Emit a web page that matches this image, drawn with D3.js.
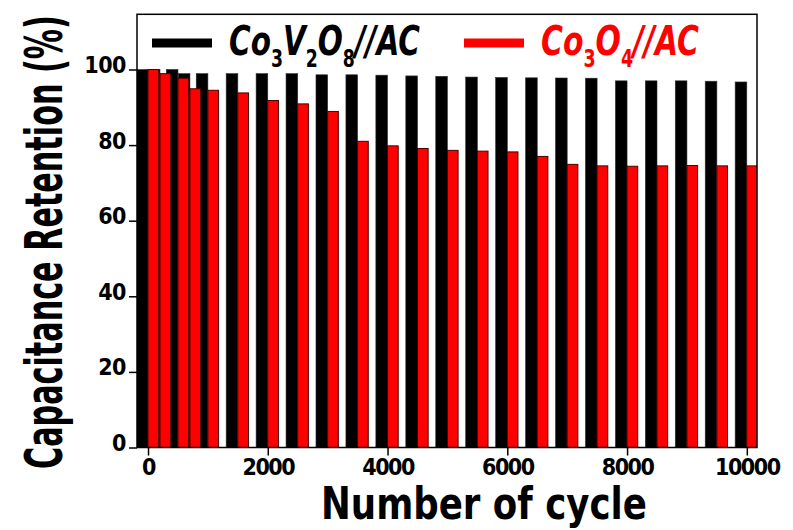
<!DOCTYPE html>
<html>
<head>
<meta charset="utf-8">
<script src="https://cdn.jsdelivr.net/npm/d3@7"></script>
<style>
  html, body { margin: 0; padding: 0; background: #fff; }
  svg { display: block; }
</style>
</head>
<body>
<svg id="chart" width="793" height="530"></svg>
<script>
// ---- data ----
const cycles = [0, 200, 500, 700, 1000, 1500, 2000, 2500, 3000, 3500, 4000, 4500,
  5000, 5500, 6000, 6500, 7000, 7500, 8000, 8500, 9000, 9500, 10000];
const co3v2o8 = [100, 100, 100, 98.9, 98.9, 98.9, 98.9, 98.9, 98.6, 98.6, 98.5, 98.3,
  98.2, 98.0, 97.9, 97.8, 97.75, 97.7, 97.0, 97.0, 97.0, 96.9, 96.7];
const co3o4 = [100, 98.9, 97.7, 94.9, 94.5, 93.8, 91.8, 90.9, 88.9, 81.0, 79.8, 79.1,
  78.6, 78.4, 78.2, 77.0, 74.9, 74.5, 74.4, 74.5, 74.6, 74.5, 74.5];
const xTicks = [0, 2000, 4000, 6000, 8000, 10000];
const yTicks = [0, 20, 40, 60, 80, 100];

// ---- layout ----
const svg = d3.select("#chart");
const L = 137, R = 757, T = 14.3, B = 447.5;
const x = d3.scaleLinear().domain([-184, 10170]).range([L, R]);
const y = d3.scaleLinear().domain([0, 114.6]).range([B, T]);
const blackW = x(195) - x(0);
const redW = x(178) - x(0);

const data = cycles.map((c, i) => ({ c, a: co3v2o8[i], b: co3o4[i] }));

const plot = svg.append("g");
plot.append("defs").append("clipPath").attr("id", "clip")
  .append("rect").attr("x", L).attr("y", T).attr("width", R - L).attr("height", B - T);
const bars = plot.append("g").attr("clip-path", "url(#clip)");

bars.selectAll("rect.black").data(data).join("rect")
  .attr("class", "black")
  .attr("x", d => x(d.c) - blackW)
  .attr("width", blackW)
  .attr("y", d => y(d.a))
  .attr("height", d => y(0) - y(d.a))
  .attr("fill", "#000")
  .attr("stroke", "#333")
  .attr("stroke-width", 0.6);

bars.selectAll("rect.red").data(data).join("rect")
  .attr("class", "red")
  .attr("x", d => x(d.c))
  .attr("width", redW)
  .attr("y", d => y(d.b))
  .attr("height", d => y(0) - y(d.b))
  .attr("fill", "#ff0000")
  .attr("stroke", "#4a0000")
  .attr("stroke-width", 1);

// ---- axes ----
const tickFont = "'DejaVu Sans Condensed', 'DejaVu Sans', sans-serif";
const xAxis = d3.axisBottom(x).tickValues(xTicks).tickSize(8).tickSizeOuter(0).tickFormat(d3.format("d"));
const gx = svg.append("g").attr("transform", `translate(0,${B})`).call(xAxis);
gx.select(".domain").remove();
gx.selectAll(".tick line").attr("stroke", "#000").attr("stroke-width", 1.5);
gx.selectAll(".tick text")
  .attr("y", 0).attr("dy", null)
  .attr("transform", "translate(0,27.5)")
  .attr("font-family", tickFont).attr("font-weight", "bold")
  .attr("font-size", 23).attr("letter-spacing", -1.5)
  .attr("fill", "#000");

const yAxis = d3.axisLeft(y).tickValues(yTicks).tickSize(8).tickSizeOuter(0);
const gy = svg.append("g").attr("transform", `translate(${L},0)`).call(yAxis);
gy.select(".domain").remove();
gy.selectAll(".tick line").attr("stroke", "#000").attr("stroke-width", 1.5);
gy.selectAll(".tick text")
  .attr("x", -11).attr("dy", null).attr("y", 3)
  .attr("font-family", tickFont).attr("font-weight", "bold")
  .attr("font-size", 23).attr("letter-spacing", -0.5)
  .attr("fill", "#000");

// frame
svg.append("rect").attr("x", L).attr("y", T).attr("width", R - L).attr("height", B - T)
  .attr("fill", "none").attr("stroke", "#000").attr("stroke-width", 1.5);

// ---- axis titles (squeezed horizontally with a scale transform) ----
function squeezedText(tx, ty, rot, size, targetW, str) {
  const g = svg.append("g");
  const t = g.append("text").attr("x", 0).attr("y", 0)
    .attr("font-family", "'DejaVu Sans', sans-serif").attr("font-weight", "bold")
    .attr("font-size", size).attr("fill", "#000").text(str);
  const w = t.node().getComputedTextLength();
  g.attr("transform", `translate(${tx},${ty}) rotate(${rot}) scale(${targetW / w},1)`);
}
squeezedText(321, 519, 0, 44, 326, "Number of cycle");
squeezedText(62, 469, -90, 52, 454, "Capacitance Retention (%)");

// ---- legend ----
function legendItem(x0, x1, tx, targetW, color, parts) {
  svg.append("line").attr("x1", x0).attr("x2", x1).attr("y1", 43).attr("y2", 43)
    .attr("stroke", color).attr("stroke-width", 9);
  const g = svg.append("g").attr("transform", `translate(${tx},55)`);
  const t = g.append("text").attr("x", 0).attr("y", 0)
    .attr("font-family", "'DejaVu Sans', sans-serif").attr("font-weight", "bold")
    .attr("font-style", "italic").attr("font-size", 41).attr("fill", color);
  let sub = false;
  parts.forEach(p => {
    const isSub = /^\d$/.test(p);
    const ts = t.append("tspan").text(p);
    if (isSub) {
      ts.attr("font-size", 24).attr("font-style", "normal").attr("dy", sub ? 0 : 12);
      sub = true;
    } else {
      if (sub) ts.attr("dy", -12);
      sub = false;
    }
  });
  const w = t.node().getComputedTextLength();
  g.attr("transform", `translate(${tx},55) scale(${targetW / w},1)`);
}
legendItem(152, 212, 229, 191, "#000", ["Co", "3", "V", "2", "O", "8", "//AC"]);
legendItem(464, 524, 541, 158, "#ff0000", ["Co", "3", "O", "4", "//AC"]);
</script>
</body>
</html>
